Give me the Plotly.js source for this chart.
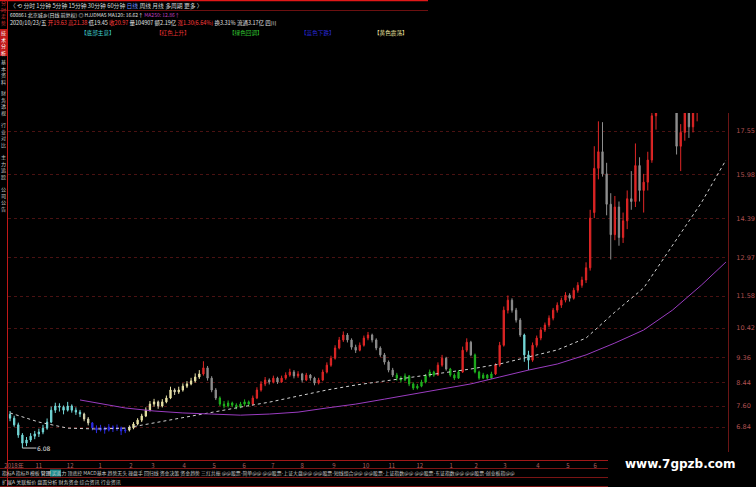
<!DOCTYPE html>
<html><head><meta charset="utf-8">
<script src="https://cdn.plot.ly/plotly-3.0.1.min.js"></script>
<style>html,body{margin:0;padding:0;background:#000;overflow:hidden}#chart{width:756px;height:487px}</style>
</head><body><div id="chart"></div>
<script>
// ---- data (3-day candles, Oct 2018 - Oct 2020) ----
const opens = [7.30,7.16,6.92,6.55,6.26,6.37,6.51,6.59,6.66,6.80,7.02,7.45,7.60,7.56,7.45,7.60,7.45,7.38,7.31,7.13,
6.99,6.81,6.73,6.81,6.73,6.84,6.77,6.81,6.70,6.73,6.81,6.95,7.09,7.24,7.45,7.67,7.75,7.60,7.75,7.89,
8.18,8.11,8.18,8.32,8.40,8.51,8.65,8.76,8.98,8.61,8.18,7.89,7.67,7.60,7.71,7.63,7.56,7.67,7.75,7.67,
7.89,8.18,8.40,8.54,8.47,8.61,8.47,8.61,8.72,8.83,8.69,8.76,8.54,8.72,8.61,8.43,8.54,8.83,9.08,9.33,
9.70,9.99,10.17,9.99,9.73,9.62,9.80,10.06,10.17,9.99,9.70,9.45,9.19,8.90,8.72,8.61,8.54,8.69,8.40,8.25,
8.32,8.47,8.69,8.83,8.72,9.08,9.33,8.94,8.72,8.61,8.83,9.62,9.91,9.45,8.83,8.61,8.72,8.61,8.76,9.08,
9.80,11.07,11.43,11.07,10.71,10.17,9.45,9.26,9.80,10.06,10.35,10.53,10.78,11.07,11.25,11.43,11.61,11.50,11.79,11.97,
12.16,12.60,14.60,16.20,16.80,16.00,14.90,13.80,14.80,13.70,14.30,15.10,15.00,16.30,15.40,15.70,16.50,18.10,18.70,19.30,
19.60,19.20,18.50,17.00,17.50,18.60,17.70,18.60,18.90,19.40,19.80,20.20,19.70,19.90,19.63];
const highs = [7.42,7.25,7.00,6.62,6.48,6.62,6.70,6.78,6.92,7.15,7.58,7.72,7.70,7.62,7.75,7.66,7.55,7.46,7.36,7.20,
7.02,6.90,6.92,6.86,6.95,6.90,6.93,6.86,6.82,6.90,7.02,7.16,7.32,7.55,7.78,7.86,7.80,7.85,7.98,8.30,
8.24,8.30,8.42,8.50,8.62,8.78,8.90,9.22,9.05,8.68,8.25,7.95,7.78,7.80,7.76,7.70,7.75,7.84,7.80,7.98,
8.28,8.50,8.65,8.60,8.70,8.66,8.70,8.82,8.95,8.90,8.86,8.80,8.80,8.76,8.66,8.62,8.92,9.18,9.42,9.80,
10.10,10.30,10.24,10.05,9.82,9.90,10.15,10.28,10.22,10.05,9.76,9.52,9.25,8.98,8.80,8.68,8.78,8.72,8.46,8.40,
8.55,8.76,8.92,8.88,9.18,9.45,9.38,8.98,8.78,8.90,9.75,10.05,9.96,9.50,8.88,8.80,8.76,8.84,9.15,9.92,
11.20,11.60,11.50,11.15,10.78,10.22,9.60,9.90,10.15,10.45,10.62,10.88,11.15,11.35,11.52,11.72,11.68,11.88,12.08,12.28,
12.80,14.70,17.00,17.90,17.87,16.40,15.30,15.20,15.00,14.60,15.40,16.10,17.10,16.60,16.00,16.80,18.30,18.90,19.60,20.10,
20.30,19.50,18.70,17.80,18.60,19.00,18.90,19.20,19.60,20.00,20.50,20.60,20.10,20.00,21.38];
const lows = [7.05,6.85,6.45,6.08,6.15,6.30,6.40,6.48,6.58,6.74,6.98,7.35,7.40,7.30,7.40,7.36,7.28,7.20,7.05,6.90,
6.72,6.62,6.68,6.60,6.68,6.66,6.70,6.55,6.62,6.68,6.76,6.90,7.02,7.20,7.40,7.58,7.50,7.55,7.70,7.85,
8.00,8.04,8.12,8.25,8.35,8.45,8.58,8.70,8.52,8.10,7.82,7.60,7.52,7.55,7.56,7.48,7.52,7.60,7.58,7.62,
7.85,8.12,8.32,8.38,8.42,8.40,8.44,8.55,8.66,8.60,8.62,8.45,8.50,8.52,8.35,8.38,8.50,8.78,9.02,9.28,
9.65,9.92,9.90,9.64,9.52,9.58,9.75,9.98,9.90,9.62,9.38,9.10,8.82,8.65,8.52,8.45,8.50,8.32,8.18,8.20,
8.28,8.42,8.64,8.66,8.70,9.02,8.88,8.66,8.54,8.58,8.80,9.55,9.40,8.78,8.55,8.58,8.55,8.58,8.72,9.02,
9.75,10.95,10.98,10.62,10.10,9.20,8.90,9.20,9.72,9.98,10.28,10.45,10.70,10.98,11.15,11.35,11.38,11.45,11.70,11.88,
12.05,12.50,14.40,15.80,15.90,14.50,12.90,13.60,13.40,13.50,14.00,14.70,14.80,15.00,14.60,15.40,16.40,17.60,18.40,18.90,
19.00,18.30,16.70,16.10,17.20,17.30,17.50,17.90,18.50,19.00,19.50,19.40,19.20,19.30,19.45];
const closes = [7.16,6.92,6.55,6.26,6.37,6.51,6.59,6.66,6.80,7.02,7.45,7.60,7.56,7.45,7.60,7.45,7.38,7.31,7.13,6.99,
6.81,6.73,6.81,6.73,6.84,6.77,6.81,6.70,6.73,6.81,6.95,7.09,7.24,7.45,7.67,7.75,7.60,7.75,7.89,8.18,
8.11,8.18,8.32,8.40,8.51,8.65,8.76,8.98,8.61,8.18,7.89,7.67,7.60,7.71,7.63,7.56,7.67,7.75,7.67,7.89,
8.18,8.40,8.54,8.47,8.61,8.47,8.61,8.72,8.83,8.69,8.76,8.54,8.72,8.61,8.43,8.54,8.83,9.08,9.33,9.70,
9.99,10.17,9.99,9.73,9.62,9.80,10.06,10.17,9.99,9.70,9.45,9.19,8.90,8.72,8.61,8.54,8.69,8.40,8.25,8.32,
8.47,8.69,8.83,8.72,9.08,9.33,8.94,8.72,8.61,8.83,9.62,9.91,9.45,8.83,8.61,8.72,8.61,8.76,9.08,9.80,
11.07,11.43,11.07,10.71,10.17,9.45,9.26,9.80,10.06,10.35,10.53,10.78,11.07,11.25,11.43,11.61,11.50,11.79,11.97,12.16,
12.60,14.40,16.20,16.80,16.00,14.90,13.80,14.80,13.70,14.30,15.10,15.00,16.30,15.40,15.70,16.50,18.10,18.70,19.30,19.60,
19.20,18.50,17.00,17.50,18.30,17.70,18.60,18.90,19.40,19.80,20.20,19.70,19.90,19.67,20.97];
// colour state runs (last candle index of each run)
const segStates = ['cyan','yellow','blue','yellow','red','green','red','green','red','green','red','green','red','cyan','red'];
const segEnds   = [17,19,28,46,50,58,93,103,106,109,112,117,124,126,174];
// moving averages sampled at candle indices
const ma120Idx = [0,7,14,21,28,35,42,49,56,63,70,77,84,91,98,105,112,119,126,133,140,147,154,161,168,174];
const ma120 = [7.35,7.02,6.80,6.77,6.80,6.99,7.20,7.38,7.56,7.74,7.96,8.18,8.36,8.50,8.65,8.79,8.94,9.12,9.37,9.63,10.06,11.00,11.87,13.43,14.95,16.50];
const ma250Idx = [17,21,28,35,42,49,56,63,70,77,84,91,98,105,112,119,126,133,140,147,154,161,168,174];
const ma250 = [7.82,7.71,7.53,7.42,7.35,7.31,7.27,7.31,7.38,7.53,7.67,7.85,8.03,8.21,8.40,8.65,8.90,9.12,9.45,9.88,10.35,11.07,11.97,12.81];
// axis labels
const monthTickIdx = [0.96,7.0,14.6,21.9,29.4,34.7,42.3,49.6,56.9,63.9,71.0,78.7,86.5,92.8,99.6,107.2,113.3,120.3,128.3,135.6,142.2];
const monthTickText = ['2018年','11','12','1','2','3','4','5','6','7','8','9','10','11','12','1','2','3','4','5','6'];
const priceTicks = [17.55,15.98,14.39,12.97,11.58,10.42,9.36,8.44,7.60,6.84];
const lowIdx = 3, lowLabel = '6.08';

// ---- styling ----
const stateColors = {
  cyan:   {inc:'#74d8d8', dec:'#74d8d8'},
  yellow: {inc:'#e8e2a6', dec:'#d8d4b0'},
  blue:   {inc:'#2c2ce0', dec:'#2c2ce0'},
  red:    {inc:'#e02626', dec:'#8e8e8e'},
  green:  {inc:'#1fb01f', dec:'#1fb01f'}
};
const stateOfIdx = [];
let s = 0;
for (let i = 0; i < closes.length; i++) { while (i > segEnds[s]) s++; stateOfIdx.push(segStates[s]); }

const traces = [];
Object.keys(stateColors).forEach(st => {
  const xs=[],o=[],h=[],l=[],c=[];
  stateOfIdx.forEach((v,i)=>{ if(v===st){xs.push(i);o.push(opens[i]);h.push(highs[i]);l.push(lows[i]);c.push(closes[i]);} });
  const col = stateColors[st];
  traces.push({type:'candlestick', x:xs, open:o, high:h, low:l, close:c, whiskerwidth:0,
    increasing:{line:{color:col.inc,width:1},fillcolor:col.inc},
    decreasing:{line:{color:col.dec,width:1},fillcolor:col.dec},
    hoverinfo:'skip', showlegend:false});
});
traces.push({type:'scatter', mode:'lines', x:ma120Idx, y:ma120, line:{color:'#d0d0d0',width:1,dash:'dot'}, hoverinfo:'skip', showlegend:false});
traces.push({type:'scatter', mode:'lines', x:ma250Idx, y:ma250, line:{color:'#9a3cc0',width:1}, hoverinfo:'skip', showlegend:false});

// pixel -> paper helpers for chrome text
const L=8, R=728, T=113, B=460;
const X = px => (px-L)/(R-L);
const Y = py => (B-py)/(B-T);
const CJK = 'Noto Sans CJK SC, sans-serif';
function txt(text, px, py, color, size, anchor, extra){
  return Object.assign({text, x:X(px), y:Y(py), xref:'paper', yref:'paper', xanchor:anchor||'left', yanchor:'middle',
    showarrow:false, borderpad:0, font:{family:CJK, size:size||6, color:color||'#d0d0d0'}}, extra||{});
}
function vert(str){ return str.split('').join('<br>'); }
function line(x0,y0,x1,y1,color,w){ return {type:'line', xref:'paper', yref:'paper', x0:X(x0), y0:Y(y0), x1:X(x1), y1:Y(y1), line:{color,width:w||1}}; }
function rect(x0,y0,x1,y1,fill,lc){ return {type:'rect', xref:'paper', yref:'paper', x0:X(x0), y0:Y(y0), x1:X(x1), y1:Y(y1), fillcolor:fill, line:{color:lc||fill,width:lc?1:0}, layer:'above'}; }

const shapes = [
  line(0,0.5,428,0.5,'#e01818',1.5),
  line(0,10.5,428,10.5,'#6a1010',1),
  line(7.5,0,7.5,487,'#c01818',1),
  rect(0,29,7,56,'#c01818'),
  line(0,468.5,608,468.5,'#7a1414',1),
  line(0,477.5,608,477.5,'#7a1414',1),
  line(0,486.5,608,486.5,'#7a1414',1),
  rect(50,469.5,61,476.5,'#1f8f8f'),
  rect(608,452,756,487,'#000000')
];
const redTxt = (s)=>'<span style="color:#ff3c3c">'+s+'</span>';
const annotations = [
  txt('〈 ⟲ 分时 1分钟 5分钟 15分钟 30分钟 60分钟 <span style="color:#7090ff">日线</span> 周线 月线 多周期 更多 〉', 9, 5.5, '#d8d8d8', 5.8),
  txt('600861 北京城乡(日线 前复权) ◎ HJJDMA5 MA120: 16.62↑ <span style="color:#c040c0">MA250: 12.86↑</span>', 9, 14.8, '#e0e0e0', 5.0),
  txt('2020/10/23/五 '+redTxt('开19.63')+' '+redTxt('高21.38')+' 低19.45 '+redTxt('收20.97')+' 量104907 额2.19亿 '+redTxt('涨1.30(6.64%)')+' 换3.31% 流通3.17亿 四川', 9, 23, '#e0e0e0', 5.5),
  txt('【底部主意】', 80, 33, '#40d0d0', 5.6),
  txt('【红色上升】', 155, 33, '#e03030', 5.6),
  txt('【绿色回调】', 228, 33, '#30c030', 5.6),
  txt('【蓝色下跌】', 300, 33, '#2828d8', 5.6),
  txt('【黄色震荡】', 373, 33, '#f0e8a0', 5.6),
  txt(vert('分时走势'), 3.5, 13, '#d03030', 5, 'center'),
  txt(vert('技术分析'), 3.5, 42.5, '#ffffff', 5, 'center'),
  txt(vert('基本资料'), 3.5, 72, '#c8c8c8', 5, 'center'),
  txt(vert('财务透视'), 3.5, 103, '#c8c8c8', 5, 'center'),
  txt(vert('行业对比'), 3.5, 135, '#c8c8c8', 5, 'center'),
  txt(vert('主力追踪'), 3.5, 167, '#c8c8c8', 5, 'center'),
  txt(vert('公司公告'), 3.5, 199, '#c8c8c8', 5, 'center'),
  txt('指标A 指标B 模板 <span style="color:#ffffff">管理</span> 买卖力 顶底控 MACD基本 趋势无头 操盘手 回归线 资金决策 资金趋势 三红共振 @@股票-简单@@ @@股票-上证大盘@@ @@股票-短线组合@@ @@股票-上证指数@@ @@股票-东证指数@@ @@股票-创业板指@@', 1, 473.2, '#c8c8c8', 4.9),
  txt('扩展A 关联报价 盘面分析 财务资金 综合资讯 行业资讯', 1, 482.3, '#c8c8c8', 5.0),
  txt('<b>www.7gpzb.com</b>', 680, 464, '#ffffff', 12, 'center', {font:{family:'DejaVu Sans, sans-serif', size:12, color:'#ffffff'}}),
  {x:lowIdx, y:lows[lowIdx], xref:'x', yref:'y', text:lowLabel, showarrow:true, ax:14, ay:0, arrowhead:0, arrowwidth:1,
   arrowcolor:'#d0d0d0', xanchor:'left', borderpad:0, font:{family:'DejaVu Sans', size:6, color:'#e0e0e0'}}
];

const layout = {
  width:756, height:487,
  paper_bgcolor:'#000000', plot_bgcolor:'#000000',
  margin:{l:L, r:756-R, t:T, b:487-B, pad:0},
  showlegend:false, boxgap:0.55,
  xaxis:{range:[-0.5,174.5], rangeslider:{visible:false}, showgrid:false, zeroline:false,
    tickmode:'array', tickvals:monthTickIdx, ticktext:monthTickText, ticks:'',
    tickfont:{family:CJK, size:6, color:'#b06060'}, showline:true, linecolor:'#a01818', linewidth:1},
  yaxis:{range:[(616.1-460)/27.64,(616.1-113)/27.64], side:'right', tickmode:'array', tickvals:priceTicks,
    ticktext:priceTicks.map(v=>v.toFixed(2)), tickfont:{family:'DejaVu Sans', size:6.5, color:'#b05050'},
    showgrid:true, gridcolor:'#4a1212', griddash:'dot', gridwidth:1, zeroline:false,
    showline:true, linecolor:'#6a1515', ticks:'', ticklabelstandoff:6},
  shapes, annotations
};
Plotly.newPlot('chart', traces, layout, {staticPlot:true, displayModeBar:false});
</script></body></html>
